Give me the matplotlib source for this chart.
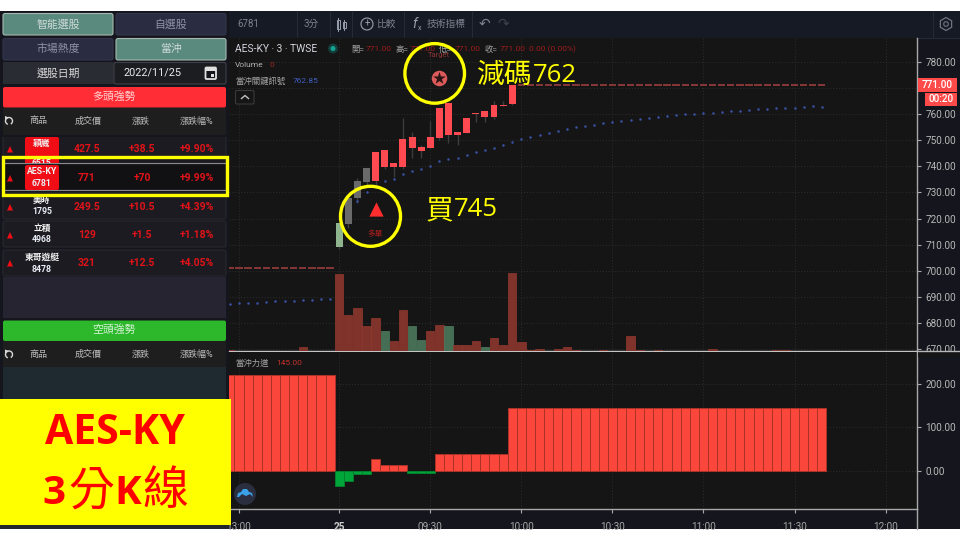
import matplotlib
matplotlib.use("Agg")
import numpy as np
import matplotlib.pyplot as plt
from matplotlib.patches import Rectangle, FancyBboxPatch, Circle, Arc, Polygon, RegularPolygon

plt.rcParams['font.family'] = ['Roboto', 'Noto Sans CJK TC', 'DejaVu Sans']

# ---------- data ----------
bar_index = list(range(-12, 54))
opens = [701.0] * 12 + [709.0, 718.0, 727.9, 734.0, 734.5, 739.9, 739.9, 739.9, 747.0, 746.0,
                        747.0, 751.0, 752.0, 752.0, 752.9, 759.9, 759.0, 759.0, 763.1, 764.0] + [771.0] * 34
highs = [701.0] * 12 + [718.2, 728.0, 735.4, 739.2, 745.4, 746.2, 741.3, 758.4, 753.1, 748.3,
                        757.3, 762.4, 764.2, 753.1, 758.4, 760.5, 761.2, 765.1, 765.0, 771.0] + [771.0] * 34
lows = [701.0] * 12 + [708.4, 716.3, 726.1, 732.9, 732.9, 739.0, 736.0, 738.9, 743.1, 743.1,
                       747.0, 750.0, 749.0, 748.2, 752.9, 757.1, 757.0, 758.1, 763.0, 763.5] + [771.0] * 34
closes = [701.0] * 12 + [718.2, 728.0, 734.4, 739.2, 745.4, 746.2, 741.3, 750.3, 751.2, 747.3,
                         751.2, 762.4, 764.2, 753.1, 758.4, 760.5, 761.2, 763.3, 763.6, 771.0] + [771.0] * 34
candle_state = ['flat'] * 12 + ['pale', 'gray', 'gray', 'gray'] + ['up'] * 16 + ['flat'] * 34

signal_line = [687.4, 687.6, 687.9, 687.9, 688.1, 688.4, 688.5, 688.7, 688.9, 689.0, 689.2, 689.2,
               np.nan, np.nan, 726.8, 730.0, 732.5, 734.2, 735.2, 737.1, 738.2, 739.0, 740.1, 742.0,
               742.7, 743.3, 744.3, 745.6, 746.3, 747.1, 748.2, 749.3, 750.3, 751.2, 752.0, 752.7,
               753.5, 754.3, 754.9, 755.4, 755.8, 756.6, 757.0, 757.3, 757.8, 758.2, 758.5, 758.9,
               759.1, 759.6, 759.9, 760.0, 760.3, 760.5, 760.8, 761.2, 761.3, 761.5, 761.8, 761.9,
               762.2, 762.3, 762.4, 762.7, 762.9, 762.85]

volumes = [0.6, 0.4, 0.4, 0.4, 0.4, 0.4, 0.4, 0.4, 3.7, 0.4, 0.4, 0.4,
           76.7, 35.7, 43.0, 25.3, 33.3, 20.0, 9.7, 40.7, 25.3, 10.7, 19.7, 26.3, 25.0, 5.7, 5.7, 9.7,
           4.0, 13.0, 6.0, 78.0, 8.7, 1.0, 2.3, 0.3, 2.0, 4.3, 1.0, 0.3, 0.3, 1.0, 0.3, 0.3, 14.7, 1.0,
           0.3, 1.0, 0.3, 0.5, 0.5, 0.3, 0.5, 2.0, 0.4, 0.4, 0.4, 0.4, 0.4, 0.4, 1.0, 1.0, 0.4, 0.4, 0.4, 0.5]
volume_state = ['up'] * 17 + ['down', 'up', 'up', 'down', 'down', 'up', 'up', 'down', 'up', 'up', 'up',
                              'down'] + ['up'] * 37

strength = [220] * 12 + [-34.5, -23, -8, -8, 28, 14, 14, 14, -4, -4, -4] + [40] * 8 + [145] * 35

price_ticks = [670, 680, 690, 700, 710, 720, 730, 740, 750, 760, 770, 780]
hidden_price_tick = 770
strength_ticks = [0, 100, 200]
time_ticks = [-11, 0, 10, 20, 30, 40, 50, 60]
time_labels = ['13:00', '25', '09:30', '10:00', '10:30', '11:00', '11:30', '12:00']

row_names = ['穎崴', 'AES-KY', '美時', '立積', '東哥遊艇']
row_codes = ['6515', '6781', '1795', '4968', '8478']
row_price = ['427.5', '771', '249.5', '129', '321']
row_change = ['+38.5', '+70', '+10.5', '+1.5', '+12.5']
row_pct = ['+9.90%', '+9.99%', '+4.39%', '+1.18%', '+4.05%']
header_cols = ['商品', '成交價', '漲跌', '漲跌幅%']

# ---------- layout helpers ----------
W, H = 960, 540
fig = plt.figure(figsize=(9.6, 5.4), dpi=100, facecolor='white')


def frac(x0, y0, x1, y1):
    return [x0 / W, 1 - y1 / H, (x1 - x0) / W, (y1 - y0) / H]


def pixel_axes(z):
    a = fig.add_axes([0, 0, 1, 1], zorder=z)
    a.set_xlim(0, W)
    a.set_ylim(H, 0)
    a.axis('off')
    a.patch.set_alpha(0)
    return a


bg = pixel_axes(0)
fg = pixel_axes(10)


def rect(a, x0, y0, x1, y1, fc, ec='none', lw=0, z=1):
    a.add_patch(Rectangle((x0, y0), x1 - x0, y1 - y0, fc=fc, ec=ec, lw=lw, zorder=z))


def rrect(a, x0, y0, x1, y1, fc, ec='none', lw=0.8, r=2, z=1):
    a.add_patch(FancyBboxPatch((x0 + r, y0 + r), x1 - x0 - 2 * r, y1 - y0 - 2 * r,
                               boxstyle=f'round,pad={r},rounding_size={r}', fc=fc, ec=ec, lw=lw, zorder=z))


def label(a, x, y, s, color='#c8c8c8', size=7, ha='center', va='center', **kw):
    kw.setdefault('zorder', 5)
    return a.text(x, y, s, color=color, fontsize=size, ha=ha, va=va, **kw)


# ---------- page chrome ----------
rect(bg, 0, 11, 960, 529, '#15151d')
rect(bg, 229, 11, 960, 38, '#161a25')
bg.plot([229, 960], [38, 38], color='#262a36', lw=0.8, zorder=2)
for sx in [297, 330, 352, 404, 472, 933]:
    bg.plot([sx, sx], [11, 38], color='#262a36', lw=0.8, zorder=2)
label(bg, 248, 24, '6781', '#7d8290', 7)
label(bg, 311, 24, '3分', '#7d8290', 7)
for cx, t, b in [(338, 20, 29), (344, 22, 28)]:
    rect(bg, cx - 1.5, t, cx + 1.5, b, 'none', '#9aa0ad', 0.7, 3)
    bg.plot([cx, cx], [t - 2, b + 2], color='#9aa0ad', lw=0.7, zorder=3)
bg.add_patch(Circle((367, 24), 6, fc='none', ec='#9aa0ad', lw=0.8, zorder=3))
label(bg, 367, 24, '+', '#9aa0ad', 7)
label(bg, 386, 24, '比較', '#7d8290', 7)
label(bg, 415, 24, 'f', '#9aa0ad', 10, style='italic')
label(bg, 420, 28, 'x', '#9aa0ad', 5)
label(bg, 446, 24, '技術指標', '#7d8290', 7)
label(bg, 484, 24, '↶', '#7d8290', 10, family='DejaVu Sans')
label(bg, 503, 24, '↷', '#3f4350', 10, family='DejaVu Sans')
bg.add_patch(RegularPolygon((946, 24), 6, radius=6.5, fc='none', ec='#6e7380', lw=0.9, zorder=3))
bg.add_patch(Circle((946, 24), 2.3, fc='none', ec='#6e7380', lw=0.8, zorder=4))

# left panel buttons
rrect(bg, 3, 13.5, 113, 35, '#5a8a7e', '#a5b8b0')
rrect(bg, 116, 13.5, 226, 35, '#2a2d42', '#33364a')
rrect(bg, 3, 38.5, 113, 60, '#2a2d42', '#33364a')
rrect(bg, 116, 38.5, 226, 60, '#5a8a7e', '#a5b8b0')
label(bg, 58, 24, '智能選股', '#d0dcd8', 7.8)
label(bg, 171, 24, '自選股', '#8e92a5', 7.8)
label(bg, 58, 49, '市場熱度', '#8e92a5', 7.8)
label(bg, 171, 49, '當沖', '#d0dcd8', 7.8)
rect(bg, 3, 62, 113, 84, '#2a2c33')
rect(bg, 113, 62, 226, 84, '#24262c')
rrect(bg, 114, 62.5, 226, 84, '#1c1d21', '#3e4047')
label(bg, 58, 73, '選股日期', '#d8d8d8', 7.8)
label(bg, 153, 73, '2022/11/25', '#e8e8e8', 7.8)
rrect(bg, 205.5, 67.5, 216, 79, '#15151d', '#e0e0e0', 1.3, 1)
rect(bg, 205.5, 67.5, 216, 71, '#e0e0e0', z=2)
rect(bg, 210.5, 74, 213.5, 77, '#e0e0e0', z=2)

# bull header and table head
rrect(bg, 3, 87, 226, 107.5, '#ff2d35')
label(bg, 114, 96.5, '多頭強勢', '#ffd5d5', 7.8)
rect(bg, 3, 108, 226, 135, '#1e1e1e')
rect(bg, 3, 277, 226, 318, '#262430')
rrect(bg, 3, 320.5, 226, 341, '#2db82c')
label(bg, 114, 330, '空頭強勢', '#d5f2d5', 7.8)
rect(bg, 3, 341, 226, 367, '#1e1e1e')
rect(bg, 3, 367, 226, 399, '#1f2a30')


def table_header(a, y):
    a.add_patch(Arc((9, y), 7, 7, theta1=-250, theta2=60, ec='#d8d8d8', lw=1.0, zorder=4))
    a.add_patch(Polygon([(5, y - 5), (9, y - 3.5), (5, y - 1)], fc='#d8d8d8', ec='none', zorder=4))
    for hx, hs in zip([38.5, 88, 141, 197], header_cols):
        label(a, hx, y, hs, '#bdbdbd', 6.5)


table_header(bg, 121)
table_header(bg, 354.5)

# stock rows
row_tops = [136, 164, 193, 221, 250]
row_bottoms = [163, 190, 219, 247, 276]
badge_bottoms = [176, 190]
name_y = [143, 171, 200, 228, 257]
code_y = [163, 184, 212, 240, 270]
value_y = [149, 178, 207, 235, 263]
for i, nm in enumerate(row_names):
    tz = 7 if i == 1 else 5
    rrect(bg, 3, row_tops[i], 226, row_bottoms[i], '#111114' if i == 1 else '#1b1b21', '#2a2a30', 0.7, z=5.5 if i == 1 else 1)
    if i < 2:
        rrect(bg, 25, row_tops[i] + 1, 59, badge_bottoms[i], '#f00d15', r=2, z=5.6 if i == 1 else 2)
    label(bg, 42, name_y[i], nm, '#f0f0f0', 6.3, fontweight='bold', zorder=tz)
    label(bg, 42, code_y[i], row_codes[i], '#e8ecf4', 6.3, fontweight='bold', zorder=tz)
    label(bg, 87, value_y[i], row_price[i], '#e01318', 7.5, fontweight='bold', zorder=tz)
    label(bg, 142, value_y[i], row_change[i], '#e01318', 7.5, fontweight='bold', zorder=tz)
    label(bg, 197, value_y[i], row_pct[i], '#e01318', 7.5, fontweight='bold', zorder=tz)
    bg.add_patch(Polygon([(7, value_y[i] + 3.5), (13, value_y[i] + 3.5), (10, value_y[i] - 3)],
                         fc='#f00d15', ec='none', zorder=tz))
rect(bg, 3, 135, 226, 137, '#15151d', z=1)
rect(bg, 3, 163, 226, 164, '#8a8a8a', z=6)
rect(bg, 3, 190, 226, 191, '#8a8a8a', z=6)
rect(bg, 0, 525, 231, 529, '#20262c', z=1)

# ---------- chart axes ----------
PANE_L, PANE_R = 229, 917
XMIN = -12.1
XMAX = 63.45
GRID = dict(color='#2d2d2d', lw=0.7, ls=(0, (1, 2)))

ax_p = fig.add_axes(frac(PANE_L, 38, PANE_R, 351), zorder=2, facecolor='#151515')
ax_v = fig.add_axes(frac(PANE_L, 38, PANE_R, 351), zorder=3, facecolor='none')
ax_s = fig.add_axes(frac(PANE_L, 351.5, PANE_R, 509.3), zorder=2, facecolor='#151515')

ax_p.set_xlim(XMIN, XMAX)
ax_p.set_ylim(669.4, 789.06)
ax_v.set_xlim(XMIN, XMAX)
ax_v.set_ylim(0, 313)
ax_s.set_xlim(XMIN, XMAX)
ax_s.set_ylim(-88, 274)

for a in (ax_p, ax_s):
    for name, sp in a.spines.items():
        sp.set_visible(name in ('right', 'bottom'))
        sp.set_color('#a8a8a8')
        sp.set_linewidth(1.0)
    a.set_axisbelow(True)
    a.grid(True, **GRID)
    a.yaxis.tick_right()
    a.tick_params(axis='y', length=3, width=0.8, color='#a8a8a8', labelcolor='#b8b8b8', labelsize=7.2, pad=3)
    a.set_xticks(time_ticks)
ax_p.spines['bottom'].set_color('#c4c4c4')
ax_p.set_yticks(price_ticks)
ax_p.set_yticklabels(['' if v == hidden_price_tick else f'{v:.2f}' for v in price_ticks])
ax_p.tick_params(axis='x', length=0, labelbottom=False)
ax_s.set_yticks(strength_ticks)
ax_s.set_yticklabels([f'{v:.2f}' for v in strength_ticks])
ax_s.set_xticklabels(time_labels)
ax_s.tick_params(axis='x', length=3, width=0.8, color='#a8a8a8', labelcolor='#a6a6a6', labelsize=7.2, pad=6)
ax_s.get_xticklabels()[1].set_fontweight('bold')
ax_s.get_xticklabels()[1].set_color('#d0d0d0')
ax_v.axis('off')

# volume
vol_colors = ['#7f332a' if s == 'up' else '#466e55' for s in volume_state]
vol_edges = ['#93392e' if s == 'up' else '#4f7d60' for s in volume_state]
ax_v.bar(bar_index, volumes, width=0.92, color=vol_colors, edgecolor=vol_edges, linewidth=0.5, zorder=2)

# candles
fill_map = {'up': '#ff4a52', 'pale': '#8fb58f', 'gray': '#6a6a6a', 'flat': '#8f3a3a'}
x = np.array(bar_index)
o, hi, lo, c = map(np.array, (opens, highs, lows, closes))
state = np.array(candle_state)
solid = state != 'flat'
ax_p.vlines(x[solid], lo[solid], hi[solid], color='#3c3c3c', lw=1.0, zorder=3)
ax_p.bar(x[solid], np.abs(c - o)[solid], bottom=np.minimum(o, c)[solid], width=0.76,
         color=[fill_map[s] for s in state[solid]], zorder=4)
ax_p.hlines(c[~solid], x[~solid] - 0.4, x[~solid] + 0.4, color=fill_map['flat'], lw=1.3, zorder=4)
ax_p.scatter(bar_index, signal_line, s=3.2, color='#3a52a8', linewidths=0, zorder=3)

# strength histogram
s_vals = np.array(strength)
s_cols = ['#fb463c' if v > 0 else '#00a63a' for v in s_vals]
s_edge = ['#a93328' if v > 0 else '#00802d' for v in s_vals]
ax_s.bar(bar_index, s_vals, width=1.0, color=s_cols, edgecolor=s_edge, linewidth=0.7, zorder=2)

# signal markers in chart coordinates
ax_p.scatter([4], [723.7], marker='^', s=105, color='#ff2d2d', linewidths=0, zorder=6, clip_on=False)
ax_p.text(4, 714.5, '多單', color='#a82020', fontsize=5.5, ha='center', va='center', zorder=6)
ax_p.scatter([11], [773.8], marker='o', s=125, color='#dc5a5a', linewidths=0, zorder=6)
ax_p.scatter([11], [773.8], marker='*', s=90, color='#2a1414', linewidths=0, zorder=7)
ax_p.text(11, 782.4, 'Target', color='#8c3434', fontsize=5.5, ha='center', va='center', zorder=6)

# legends on chart
label(fg, 235, 49, 'AES-KY · 3 · TWSE', '#d1d4dc', 7.4, ha='left')
fg.add_patch(Circle((333, 48.5), 5, fc='#143c38', ec='none', zorder=5))
fg.add_patch(Circle((333, 48.5), 2.5, fc='#12a594', ec='none', zorder=6))
ohlc_x = [351, 365.5, 395, 410, 438.5, 455, 485, 499.5]
ohlc_s = ['開=', '771.00', '高=', '771.00', '低=', '771.00', '收=', '771.00']
for ox, os_, oc in zip(ohlc_x, ohlc_s, ['#a6a6a6', '#9c1c1c'] * 4):
    label(fg, ox, 49, os_, oc, 6, ha='left')
label(fg, 529, 49, '0.00 (0.00%)', '#9c1c1c', 6, ha='left')
label(fg, 235, 65, 'Volume', '#b0b0b0', 6, ha='left')
label(fg, 269, 65, '0', '#9c2a22', 6, ha='left')
label(fg, 235, 81, '當沖關鍵訊號', '#a8a8a8', 6, ha='left')
label(fg, 293, 81, '762.85', '#3f5fc0', 6, ha='left')
rrect(fg, 235.5, 90.5, 254, 104, '#151515', '#3a3a3a', 0.8, 1.5)
fg.plot([241.5, 245, 248.5], [98.5, 95.5, 98.5], color='#c0c0c0', lw=1, zorder=6)
label(fg, 235, 363, '當沖力道', '#a8a8a8', 6, ha='left')
label(fg, 276, 363, '145.00', '#c4302a', 6, ha='left')

# price tags
rect(fg, 917.5, 78, 957, 92, '#ff4a4a')
label(fg, 937.5, 85, '771.00', '#ffffff', 7.2, fontweight='medium')
rect(fg, 925, 93, 957, 106, '#ff4a4a')
label(fg, 941, 99.5, '00:20', '#ffffff', 7.2, fontweight='medium')
rect(fg, 918, 351.6, 960, 357, '#151515')
fg.plot([917, 960], [351, 351], color='#b8b8b8', lw=1.0, zorder=6)
fg.plot([917, 917], [509, 529], color='#a8a8a8', lw=1.0, zorder=6)

# logo
fg.add_patch(Circle((245, 494), 11, fc='#2a2e3e', ec='none', zorder=5))
fg.add_patch(Polygon([(237, 497), (238, 493), (241, 492), (243, 489), (247, 489), (249, 492), (252, 493),
                      (253, 497), (250, 494), (246, 496), (242, 494), (239, 497)],
                     fc='#3aa0e8', ec='none', zorder=6))

# annotations
fg.add_patch(Circle((434.7, 73.4), 29.8, fc='none', ec='#ffff00', lw=2.4, zorder=8))
fg.add_patch(Circle((370.5, 216.3), 30, fc='none', ec='#ffff00', lw=2.4, zorder=8))
rect(fg, 3, 156.5, 227, 195, 'none', '#ffff00', 2.4, 8)
ann = dict(color='#ffff00', zorder=9, va='center')
fg.text(477, 75, '減碼', fontsize=20, ha='left', family='Noto Sans CJK TC', fontweight='light', **ann)
fg.text(533, 75, '762', fontsize=18.5, ha='left', family='Open Sans', **ann)
fg.text(426, 210, '買', fontsize=20, ha='left', family='Noto Sans CJK TC', fontweight='light', **ann)
fg.text(454, 210, '745', fontsize=18.5, ha='left', family='Open Sans', **ann)

# yellow caption box
rect(fg, 0, 399, 231, 525, '#ffff00', z=7)
cap = dict(color='#ff0000', zorder=9, va='center')
fg.text(115, 434, 'AES-KY', fontsize=29.5, ha='center', family='Open Sans', fontweight='bold', **cap)
fg.text(54, 493, '3', fontsize=29, ha='center', family='Open Sans', fontweight='bold', **cap)
fg.text(91, 491, '分', fontsize=33, ha='center', family='Noto Sans CJK TC', fontweight='light', **cap)
fg.text(128, 493, 'K', fontsize=29, ha='center', family='Open Sans', fontweight='bold', **cap)
fg.text(165, 491, '線', fontsize=33, ha='center', family='Noto Sans CJK TC', fontweight='light', **cap)

fig.savefig('out.png', dpi=100, facecolor='white')
